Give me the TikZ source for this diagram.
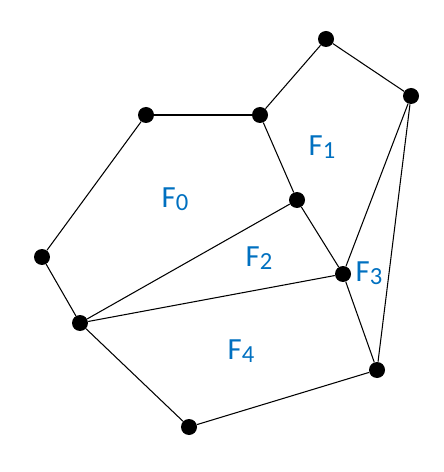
\documentclass[tikz,border=0pt]{standalone}
\usepackage{fontspec}
\usepackage{xcolor}
\setmainfont{Carlito}
\definecolor{faceblue}{RGB}{0,112,192}
\newcommand{\fc}[1]{F\raisebox{-0.2ex}{\scalebox{0.8}{#1}}}

\begin{document}
\begin{tikzpicture} [
       x=0.02cm, y=-0.02cm,
       vertex/.style={circle, fill=black, inner sep=0pt, minimum size=0.32cm},
       face/.style={text=faceblue, font=\fontsize{17.5}{20}\selectfont},
       line/.style = { draw, line width=0.6pt },
       ]
       \useasboundingbox (0,0) rectangle (443,472);
       \node (a) [vertex] at (326,39) {};
       \node (b) [vertex] at (411,96) {};
       \node (c) [vertex] at (146,115) {};
       \node (d) [vertex] at (260,115) {};
       \node (e) [vertex] at (297,200) {};
       \node (f) [vertex] at (42,257) {};
       \node (g) [vertex] at (343,274) {};
       \node (h) [vertex] at (80,323) {};
       \node (i) [vertex] at (377,370) {};
       \node (j) [vertex] at (189,427) {};
       \node (f0) [face] at (175,199) {\fc{0}};
       \node (f1) [face] at (322,147) {\fc{1}};
       \node (f2) [face] at (259,258) {\fc{2}};
       \node (f3) [face] at (369,273) {\fc{3}};
       \node (f4) [face] at (241,351) {\fc{4}};
        \begin{scope}[every path/.style=line]
        \path (a) -- (d);
        \path (a) -- (b);
        \path (c) -- (d);
        \path (c) -- (f);
        \path (d) -- (e);
        \path (e) -- (h);
        \path (e) -- (g);
        \path (f) -- (h);
        \path (h) -- (g);
        \path (h) -- (j);
        \path (j) -- (i);
        \path (g) -- (i);
        \path (g) -- (b);
        \path (b) -- (i);
\end{scope}
\end{tikzpicture}
\end{document}
